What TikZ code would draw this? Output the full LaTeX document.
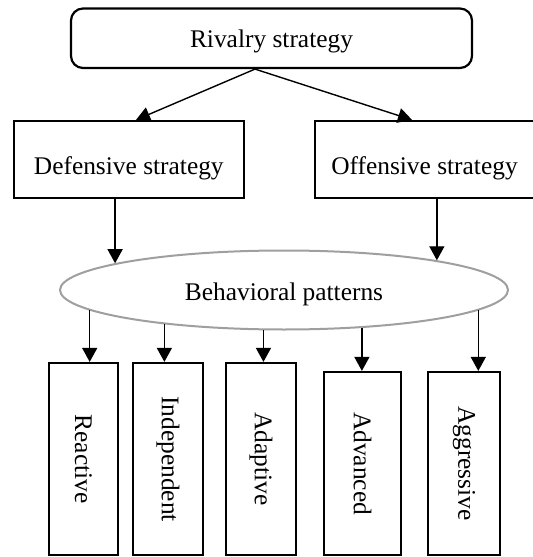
\documentclass[tikz,border=0pt]{standalone}
\usepackage{fontspec}
\setmainfont{Liberation Serif}
\usetikzlibrary{arrows.meta, shapes.geometric}

\begin{document}
\begin{tikzpicture}[x=0.5pt, y=-0.5pt,
    box/.style={draw, line width=1.1pt, inner sep=0pt, font=\fontsize{12.7}{14}\selectfont},
    vbox/.style={box, rotate=-90, minimum width=96pt, minimum height=35pt},
    arr/.style={-{Triangle[width=7.5pt,length=7pt]}, line width=0.7pt}]
    \useasboundingbox (0,0) rectangle (532,557);

    % 顶层
    \node[box, rounded corners=6pt, minimum width=200.5pt, minimum height=29.75pt,
          text height=12pt, text depth=2.7pt] (rivalry) at (271.5,38.25) {Rivalry strategy};

    % 第二层
    \node[box, minimum width=115.2pt, minimum height=38.5pt,
          text height=17.2pt, text depth=2.7pt] (defensive) at (128.8,159.5) {Defensive strategy};
    \node[box, minimum width=109.5pt, minimum height=38.5pt,
          text height=17.2pt, text depth=2.7pt] (offensive) at (424.5,159.5) {Offensive strategy};

    % 椭圆
    \node[ellipse, draw=gray!75, line width=1pt, fill=white, minimum width=224pt,
          minimum height=39.5pt, inner sep=0pt, font=\fontsize{12.7}{14}\selectfont,
          text height=12.7pt, text depth=2.7pt] (patterns) at (284,290) {Behavioral patterns};

    % 底层（竖排文字）
    \node[vbox, minimum height=34.5pt] (reactive) at (83.5,459) {Reactive};
    \node[vbox] (independent) at (168,459) {Independent};
    \node[vbox] (adaptive) at (261,459) {Adaptive};
    \node[vbox, minimum width=91.5pt, minimum height=38.5pt] (advanced) at (362.5,463.5) {Advanced};
    \node[vbox, minimum width=91.5pt, minimum height=36pt] (aggressive) at (464,463.5) {Aggressive};

    % 箭头
    \coordinate (fork) at ([xshift=-8.25pt]rivalry.south);
    \draw[arr] (fork) -- ([xshift=3.6pt]defensive.north);
    \draw[arr] (fork) -- ([xshift=-6.25pt]offensive.north);

    \draw[arr] (defensive.south -| patterns.171.2) -- (patterns.171.2);
    \draw[arr] (offensive.south -| patterns.11) -- (patterns.11);

    \draw[arr] (patterns.-174.5) -- (patterns.-174.5 |- reactive.west);
    \draw[arr] (patterns.-164.4) -- (patterns.-164.4 |- independent.west);
    \draw[arr] (patterns.-117) -- (patterns.-117 |- adaptive.west);
    \draw[arr] (patterns.-26.1) -- (patterns.-26.1 |- advanced.west);
    \draw[arr] (patterns.-6.5) -- (patterns.-6.5 |- aggressive.west);
\end{tikzpicture}
\end{document}
